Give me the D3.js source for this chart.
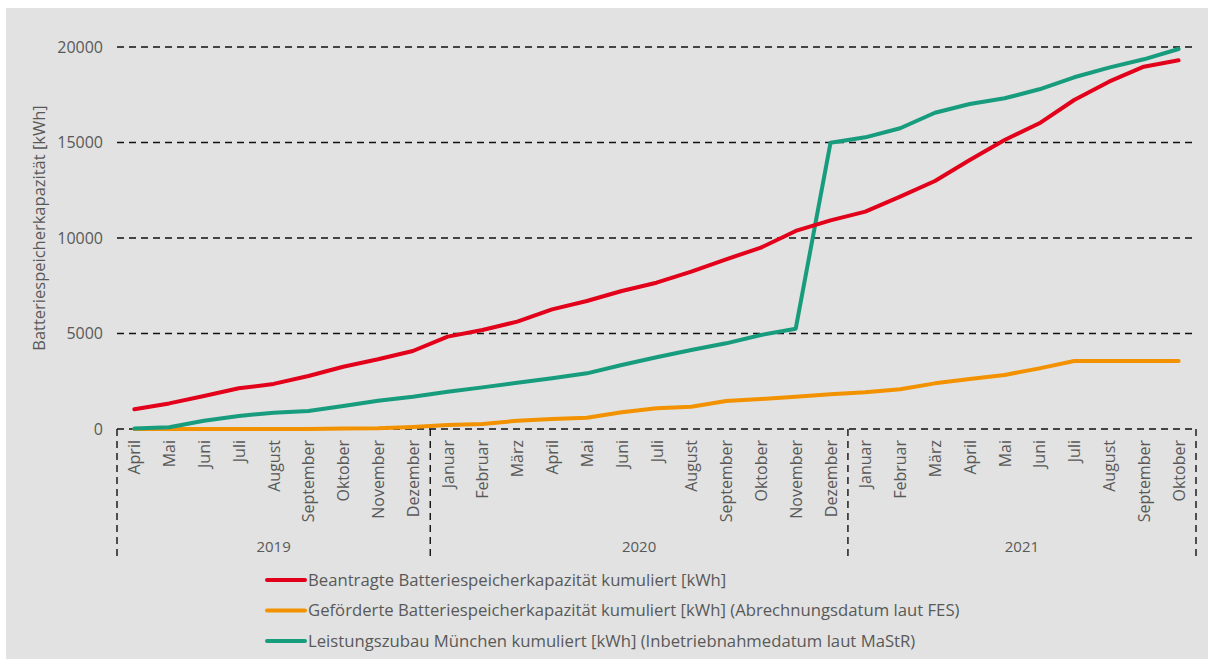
<!DOCTYPE html>
<html><head><meta charset="utf-8">
<script src="https://cdn.jsdelivr.net/npm/d3@7"></script>
<style>body{margin:0;background:#fff}svg{display:block}</style>
</head><body>
<svg id="c" width="1208" height="659"></svg>
<script>
const months = ["April","Mai","Juni","Juli","August","September","Oktober","November","Dezember",
 "Januar","Februar","März","April","Mai","Juni","Juli","August","September","Oktober","November","Dezember",
 "Januar","Februar","März","April","Mai","Juni","Juli","August","September","Oktober"];
const years = [{label:"2019", start:0, end:9},{label:"2020", start:9, end:21},{label:"2021", start:21, end:31}];
const yTicks = [0,5000,10000,15000,20000];
const beantragt = [1030,1340,1730,2130,2360,2775,3260,3650,4085,
 4835,5180,5620,6265,6700,7225,7660,8240,8885,9495,10370,10920,
 11380,12165,12985,14085,15130,16005,17225,18185,18970,19305];
const gefoerdert = [0,0,0,0,0,0,30,40,110,
 210,260,435,525,590,875,1085,1170,1465,1570,1690,1815,
 1920,2080,2390,2620,2830,3175,3560,3560,3560,3560];
const zubau = [20,90,435,680,855,940,1205,1480,1690,
 1955,2180,2425,2655,2915,3350,3755,4135,4485,4920,5250,14990,
 15270,15745,16560,17015,17315,17785,18415,18920,19355,19895];
const seriesNames = ["Beantragte Batteriespeicherkapazität kumuliert [kWh]",
 "Geförderte Batteriespeicherkapazität kumuliert [kWh] (Abrechnungsdatum laut FES)",
 "Leistungszubau München kumuliert [kWh] (Inbetriebnahmedatum laut MaStR)"];
const colors = ["#e2001a","#f39200","#179c7d"];
const series = [beantragt, gefoerdert, zubau];

const svg = d3.select("#c");
const font = "'Open Sans', sans-serif";
const txt = "#595959";
svg.append("rect").attr("x",6).attr("y",8).attr("width",1202).attr("height",651).attr("fill","#e1e2e1");

const idx = d3.range(months.length);
const x = d3.scaleBand().domain(idx).range([117,1196]);
const y = d3.scaleLinear().domain([0,20000]).range([429,47]);
const cx = i => x(i) + x.bandwidth()/2;

// gridlines
svg.append("g").selectAll("line").data(yTicks).join("line")
  .attr("x1",117).attr("x2",1196).attr("y1",d=>y(d)).attr("y2",d=>y(d))
  .attr("stroke","#111").attr("stroke-width",1.4).attr("stroke-dasharray","7,5");
// y labels
svg.append("g").selectAll("text").data(yTicks).join("text")
  .attr("x",103).attr("y",d=>y(d)).attr("dy","0.35em").attr("text-anchor","end")
  .attr("font-family",font).attr("font-size",16).attr("fill",txt).text(d=>d);
svg.append("text").attr("transform","translate(45,228) rotate(-90)").attr("text-anchor","middle")
  .attr("font-family",font).attr("font-size",16.5).attr("fill",txt).text("Batteriespeicherkapazität [kWh]");

// year separators
const bounds = [0,9,21,31];
svg.append("g").selectAll("line").data(bounds).join("line")
  .attr("x1",d=>x.range()[0]+d*x.step()).attr("x2",d=>x.range()[0]+d*x.step())
  .attr("y1",429).attr("y2",556)
  .attr("stroke","#111").attr("stroke-width",1.4).attr("stroke-dasharray","7,5");
svg.append("g").selectAll("text").data(years).join("text")
  .attr("x",d=>x.range()[0]+(d.start+d.end)/2*x.step()).attr("y",552)
  .attr("text-anchor","middle").attr("font-family",font).attr("font-size",15).attr("fill",txt).text(d=>d.label);

// month labels
svg.append("g").selectAll("text").data(idx).join("text")
  .attr("transform",i=>`translate(${cx(i)+6},440) rotate(-90)`).attr("text-anchor","end")
  .attr("font-family",font).attr("font-size",16).attr("fill",txt).text(i=>months[i]);

// lines
const line = d3.line().x((d,i)=>cx(i)).y(d=>y(d));
svg.append("g").selectAll("path").data([1,2,0]).join("path")
  .attr("d",k=>line(series[k])).attr("fill","none").attr("stroke",k=>colors[k])
  .attr("stroke-width",4).attr("stroke-linejoin","round").attr("stroke-linecap","round");

// legend
const lg = svg.append("g").selectAll("g").data(idx.slice(0,3)).join("g")
  .attr("transform",k=>`translate(267,${580+k*30.5})`);
lg.append("line").attr("x1",0).attr("x2",38).attr("stroke",k=>colors[k]).attr("stroke-width",4).attr("stroke-linecap","round");
lg.append("text").attr("x",41).attr("dy","0.35em").attr("font-family",font).attr("font-size",16.7)
  .attr("fill",txt).text(k=>seriesNames[k]);
</script>
</body></html>
